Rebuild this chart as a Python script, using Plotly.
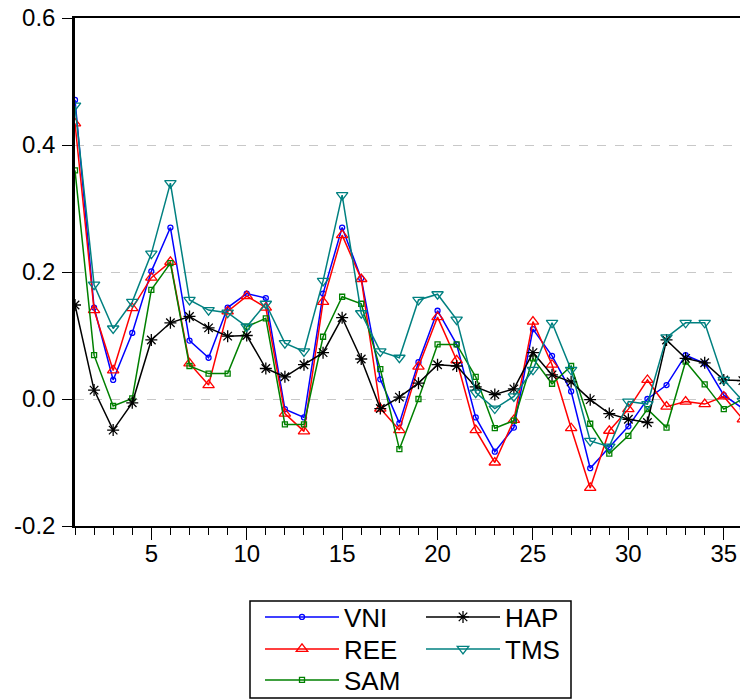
import plotly.graph_objects as go

lags = list(range(1, 37))

VNI = [0.471, 0.144, 0.030, 0.104, 0.201, 0.270, 0.092, 0.065, 0.144, 0.166,
       0.159, -0.016, -0.029, 0.166, 0.270, 0.190, 0.031, -0.038, 0.058, 0.139,
       0.086, -0.029, -0.083, -0.045, 0.110, 0.068, 0.012, -0.109, -0.076, -0.043,
       0.000, 0.022, 0.069, 0.056, 0.006, -0.015]
REE = [0.434, 0.140, 0.045, 0.143, 0.191, 0.216, 0.056, 0.022, 0.138, 0.162,
       0.144, -0.023, -0.051, 0.153, 0.258, 0.189, -0.015, -0.049, 0.051, 0.129,
       0.061, -0.049, -0.100, -0.033, 0.122, 0.054, -0.046, -0.140, -0.050, -0.016,
       0.030, -0.012, -0.004, -0.008, 0.004, -0.032]
SAM = [0.360, 0.069, -0.011, 0.001, 0.172, 0.214, 0.052, 0.040, 0.040, 0.114,
       0.127, -0.040, -0.040, 0.098, 0.161, 0.150, 0.047, -0.079, 0.000, 0.086,
       0.086, 0.035, -0.046, -0.034, 0.064, 0.024, 0.052, -0.039, -0.086, -0.058,
       -0.016, -0.045, 0.059, 0.023, -0.016, 0.000]
HAP = [0.148, 0.014, -0.049, -0.006, 0.093, 0.120, 0.130, 0.112, 0.099, 0.100,
       0.048, 0.035, 0.054, 0.073, 0.128, 0.063, -0.015, 0.003, 0.025, 0.054,
       0.052, 0.019, 0.007, 0.016, 0.073, 0.038, 0.027, -0.001, -0.023, -0.032,
       -0.037, 0.093, 0.064, 0.057, 0.030, 0.029]
TMS = [0.462, 0.180, 0.111, 0.153, 0.229, 0.340, 0.156, 0.140, 0.136, 0.114,
       0.150, 0.088, 0.075, 0.186, 0.321, 0.135, 0.075, 0.065, 0.156, 0.165,
       0.125, 0.010, -0.015, 0.004, 0.046, 0.120, 0.046, -0.066, -0.075, -0.004,
       -0.008, 0.097, 0.120, 0.120, 0.030, -0.003]

y_ticks = [-0.2, 0.0, 0.2, 0.4, 0.6]
y_tick_labels = ["-0.2", "0.0", "0.2", "0.4", "0.6"]

FONT = "Liberation Sans, Arial, sans-serif"

W, H = 740, 700
L, R, T, B = 75, 0, 18, 174

# name, values, colour, symbol, size, legend id, legend left px, legend row centre px
series = [
    ("VNI", VNI, "#0000FF", "circle-open", 5, "legend", 260, 617),
    ("REE", REE, "#FF0000", "triangle-up-open", 10, "legend2", 260, 649),
    ("SAM", SAM, "#008000", "square-open", 5, "legend3", 260, 680),
    ("HAP", HAP, "#000000", "asterisk-open", 10, "legend4", 421, 617),
    ("TMS", TMS, "#008080", "triangle-down-open", 10, "legend5", 421, 649),
]

fig = go.Figure()
legends = {}
for name, vals, col, sym, sz, leg, lx, ly in series:
    fig.add_trace(go.Scatter(
        x=lags, y=vals, name=name, mode="lines+markers",
        line=dict(color=col, width=1.5),
        marker=dict(symbol=sym, size=sz, color=col, line=dict(color=col, width=1.3)),
        legend=leg,
    ))
    legends[leg] = dict(
        xref="container", yref="container",
        x=lx / W, y=1 - ly / H, xanchor="left", yanchor="middle",
        orientation="v", bgcolor="rgba(0,0,0,0)", borderwidth=0,
        font=dict(family=FONT, size=26, color="black"),
        itemwidth=74,
    )

fig.update_layout(
    width=W, height=H,
    margin=dict(l=L, r=R, t=T, b=B, autoexpand=False),
    paper_bgcolor="white", plot_bgcolor="white",
    font=dict(family=FONT, size=24, color="black"),
    showlegend=True,
    xaxis=dict(
        range=[1, 35.85], showgrid=False, zeroline=False, automargin=False,
        showline=True, linecolor="black", linewidth=2, mirror=True,
        ticks="outside", ticklen=12, tickwidth=1, tickcolor="black",
        tick0=0, dtick=5, ticklabelstandoff=-7,
        tickfont=dict(family=FONT, size=24, color="black"),
        minor=dict(dtick=1, tick0=0, ticks="outside", ticklen=7, tickwidth=1,
                   tickcolor="black", showgrid=False),
    ),
    yaxis=dict(
        range=[-0.2, 0.6], zeroline=False, automargin=False,
        showline=True, linecolor="black", linewidth=2.5,
        ticks="outside", ticklen=10, tickwidth=1, tickcolor="black",
        tickvals=y_ticks, ticktext=y_tick_labels, ticklabelstandoff=2,
        showgrid=True, gridcolor="#c8c8c8", griddash="dash", gridwidth=1,
        tickfont=dict(family=FONT, size=24, color="black"),
    ),
    **legends,
)

# legend frame
fig.add_shape(type="rect", xref="paper", yref="paper",
              x0=(250 - L) / (W - L - R), x1=(571 - L) / (W - L - R),
              y0=(H - B - 601) / (H - T - B), y1=(H - B - 698) / (H - T - B),
              line=dict(color="black", width=1.5), fillcolor="rgba(0,0,0,0)",
              layer="above")

fig.write_html("out.html",
               config={"displayModeBar": False},
               post_script="document.body.style.margin='0';document.body.style.overflow='hidden';")
